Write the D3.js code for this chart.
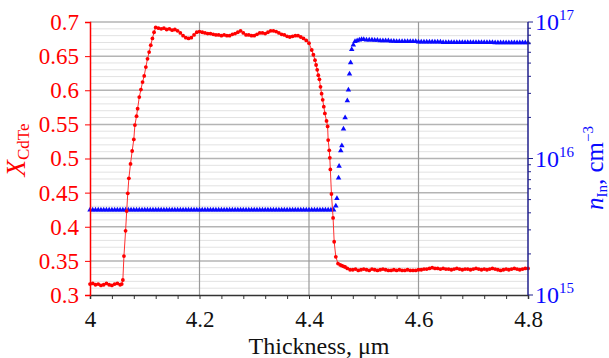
<!DOCTYPE html>
<meta charset="utf-8">
<script src="https://d3js.org/d3.v7.min.js"></script>
<style>
  body { margin: 0; background: #fff; }
</style>
<div id="chart"></div>
<script>

// X_CdTe profile (red): thickness (um) and composition
var redT = [
  4.000, 4.005, 4.010, 4.015, 4.020, 4.025, 4.030, 4.035, 4.040, 4.045, 4.050, 4.055, 4.058,
  4.060, 4.062, 4.065, 4.067, 4.069, 4.071, 4.074, 4.077, 4.080, 4.082, 4.085, 4.087, 4.090,
  4.093, 4.096, 4.099, 4.102, 4.105, 4.108, 4.111, 4.114, 4.117, 4.120,
  4.125, 4.130, 4.135, 4.140, 4.145, 4.150, 4.155, 4.160, 4.165, 4.170, 4.175, 4.180, 4.185,
  4.190, 4.195, 4.200, 4.205, 4.210, 4.215, 4.220, 4.225, 4.230, 4.235, 4.240, 4.245, 4.250,
  4.255, 4.260, 4.265, 4.270, 4.275, 4.280, 4.285, 4.290, 4.295, 4.300, 4.305, 4.310, 4.315,
  4.320, 4.325, 4.330, 4.335, 4.340, 4.345, 4.350, 4.355, 4.360, 4.365, 4.370, 4.375, 4.380,
  4.385, 4.390, 4.395, 4.400,
  4.405, 4.408, 4.411, 4.413, 4.415, 4.417, 4.419, 4.421, 4.423, 4.425, 4.427, 4.429, 4.432,
  4.434, 4.435, 4.437, 4.438, 4.439, 4.441, 4.444, 4.446, 4.449, 4.453, 4.457, 4.460, 4.463,
  4.466, 4.470, 4.475,
  4.480, 4.485, 4.490, 4.495, 4.500, 4.505, 4.510, 4.515, 4.520, 4.525, 4.530, 4.535, 4.540,
  4.545, 4.550, 4.555, 4.560, 4.565, 4.570, 4.575, 4.580, 4.585, 4.590, 4.595, 4.600, 4.605,
  4.610, 4.615, 4.620, 4.625, 4.630, 4.635, 4.640, 4.645, 4.650, 4.655, 4.660, 4.665, 4.670,
  4.675, 4.680, 4.685, 4.690, 4.695, 4.700, 4.705, 4.710, 4.715, 4.720, 4.725, 4.730, 4.735,
  4.740, 4.745, 4.750, 4.755, 4.760, 4.765, 4.770, 4.775, 4.780, 4.785, 4.790, 4.795, 4.800
];
var redX = [
  0.316, 0.317, 0.315, 0.316, 0.314, 0.315, 0.317, 0.315, 0.314, 0.316, 0.317, 0.315, 0.316,
  0.322, 0.357, 0.394, 0.423, 0.449, 0.471, 0.492, 0.511, 0.528, 0.549, 0.562, 0.573, 0.590,
  0.601, 0.612, 0.621, 0.634, 0.646, 0.656, 0.666, 0.676, 0.685, 0.692,
  0.691, 0.690, 0.691, 0.689, 0.690, 0.688, 0.689, 0.687, 0.684, 0.680, 0.677, 0.676, 0.677,
  0.681, 0.685, 0.686, 0.685, 0.684, 0.683, 0.683, 0.682, 0.681, 0.681, 0.680, 0.681, 0.680,
  0.680, 0.682, 0.683, 0.685, 0.687, 0.684, 0.681, 0.681, 0.680, 0.680, 0.682, 0.684, 0.684,
  0.683, 0.685, 0.687, 0.687, 0.686, 0.684, 0.682, 0.681, 0.679, 0.678, 0.679, 0.680, 0.680,
  0.678, 0.676, 0.673, 0.669,
  0.659, 0.652, 0.644, 0.637, 0.630, 0.622, 0.616, 0.605, 0.595, 0.586, 0.576, 0.566, 0.555,
  0.547, 0.527, 0.512, 0.501, 0.484, 0.448, 0.413, 0.378, 0.356, 0.346, 0.344, 0.343, 0.342,
  0.341, 0.339, 0.337,
  0.337, 0.338, 0.336, 0.337, 0.338, 0.337, 0.336, 0.338, 0.337, 0.336, 0.337, 0.338, 0.337,
  0.336, 0.336, 0.337, 0.336, 0.337, 0.336, 0.336, 0.337, 0.336, 0.336, 0.336, 0.337, 0.337,
  0.338, 0.338, 0.339, 0.340, 0.339, 0.339, 0.338, 0.339, 0.338, 0.338, 0.337, 0.338, 0.339,
  0.338, 0.337, 0.338, 0.338, 0.337, 0.338, 0.339, 0.338, 0.337, 0.338, 0.337, 0.338, 0.339,
  0.338, 0.337, 0.336, 0.337, 0.338, 0.337, 0.338, 0.339, 0.338, 0.337, 0.338, 0.339, 0.339
];

// n_In profile (blue): thickness (um) and concentration (cm^-3)
var blueT = [
  4.000, 4.005, 4.010, 4.015, 4.020, 4.025, 4.030, 4.035, 4.040, 4.045, 4.050, 4.055, 4.060,
  4.065, 4.070, 4.075, 4.080, 4.085, 4.090, 4.095, 4.100, 4.105, 4.110, 4.115, 4.120, 4.125,
  4.130, 4.135, 4.140, 4.145, 4.150, 4.155, 4.160, 4.165, 4.170, 4.175, 4.180, 4.185, 4.190,
  4.195, 4.200, 4.205, 4.210, 4.215, 4.220, 4.225, 4.230, 4.235, 4.240, 4.245, 4.250, 4.255,
  4.260, 4.265, 4.270, 4.275, 4.280, 4.285, 4.290, 4.295, 4.300, 4.305, 4.310, 4.315, 4.320,
  4.325, 4.330, 4.335, 4.340, 4.345, 4.350, 4.355, 4.360, 4.365, 4.370, 4.375, 4.380, 4.385,
  4.390, 4.395, 4.400, 4.405, 4.410, 4.415, 4.420, 4.425, 4.430, 4.435, 4.440, 4.445,
  4.449, 4.451, 4.454, 4.455, 4.458, 4.460, 4.463, 4.466, 4.470, 4.472, 4.474, 4.476, 4.478,
  4.481, 4.484, 4.488, 4.492, 4.496,
  4.500, 4.505, 4.510, 4.515, 4.520, 4.525, 4.530, 4.535, 4.540, 4.545, 4.550, 4.555, 4.560,
  4.565, 4.570, 4.575, 4.580, 4.585, 4.590, 4.595, 4.600, 4.605, 4.610, 4.615, 4.620, 4.625,
  4.630, 4.635, 4.640, 4.645, 4.650, 4.655, 4.660, 4.665, 4.670, 4.675, 4.680, 4.685, 4.690,
  4.695, 4.700, 4.705, 4.710, 4.715, 4.720, 4.725, 4.730, 4.735, 4.740, 4.745, 4.750, 4.755,
  4.760, 4.765, 4.770, 4.775, 4.780, 4.785, 4.790, 4.795, 4.800
];
var blueN = [
  4.2e15, 4.2e15, 4.2e15, 4.2e15, 4.2e15, 4.2e15, 4.2e15, 4.2e15, 4.2e15, 4.2e15, 4.2e15, 4.2e15, 4.2e15,
  4.2e15, 4.2e15, 4.2e15, 4.2e15, 4.2e15, 4.2e15, 4.2e15, 4.2e15, 4.2e15, 4.2e15, 4.2e15, 4.2e15, 4.2e15,
  4.2e15, 4.2e15, 4.2e15, 4.2e15, 4.2e15, 4.2e15, 4.2e15, 4.2e15, 4.2e15, 4.2e15, 4.2e15, 4.2e15, 4.2e15,
  4.2e15, 4.2e15, 4.2e15, 4.2e15, 4.2e15, 4.2e15, 4.2e15, 4.2e15, 4.2e15, 4.2e15, 4.2e15, 4.2e15, 4.2e15,
  4.2e15, 4.2e15, 4.2e15, 4.2e15, 4.2e15, 4.2e15, 4.2e15, 4.2e15, 4.2e15, 4.2e15, 4.2e15, 4.2e15, 4.2e15,
  4.2e15, 4.2e15, 4.2e15, 4.2e15, 4.2e15, 4.2e15, 4.2e15, 4.2e15, 4.2e15, 4.2e15, 4.2e15, 4.2e15, 4.2e15,
  4.2e15, 4.2e15, 4.2e15, 4.2e15, 4.2e15, 4.2e15, 4.2e15, 4.2e15, 4.2e15, 4.2e15, 4.2e15, 4.2e15,
  4.5e15, 5.1e15, 7.2e15, 8.8e15, 1.14e16, 1.24e16, 1.65e16, 1.99e16, 2.65e16, 3.18e16, 4.16e16, 5.04e16, 6.3e16,
  6.8e16, 7.2e16, 7.3e16, 7.4e16, 7.45e16,
  7.45e16, 7.4e16, 7.4e16, 7.4e16, 7.35e16, 7.35e16, 7.3e16, 7.3e16, 7.3e16, 7.3e16, 7.25e16, 7.25e16, 7.2e16,
  7.2e16, 7.2e16, 7.2e16, 7.2e16, 7.2e16, 7.2e16, 7.2e16, 7.15e16, 7.15e16, 7.15e16, 7.15e16, 7.15e16, 7.15e16,
  7.15e16, 7.15e16, 7.15e16, 7.1e16, 7.1e16, 7.1e16, 7.1e16, 7.1e16, 7.1e16, 7.1e16, 7.1e16, 7.1e16, 7.1e16,
  7.1e16, 7.1e16, 7.1e16, 7.1e16, 7.1e16, 7.1e16, 7.1e16, 7.1e16, 7.1e16, 7.05e16, 7.05e16, 7.05e16, 7.05e16,
  7.05e16, 7.05e16, 7.05e16, 7.05e16, 7.05e16, 7.05e16, 7.05e16, 7.05e16, 7.05e16
];

var xTicks = [4, 4.2, 4.4, 4.6, 4.8];
var yTicks = [0.3, 0.35, 0.4, 0.45, 0.5, 0.55, 0.6, 0.65, 0.7];
var nTicks = [1e15, 1e16, 1e17];

var red = "#ff0000", blue = "#0a0aff", navy = "#20208c";

var margin = {top: 22, right: 81, bottom: 63, left: 90},
    width = 609 - margin.left - margin.right,
    height = 358 - margin.top - margin.bottom;

var svg = d3.select("#chart")
  .append("svg")
    .attr("width", 609)
    .attr("height", 358)
  .append("g")
    .attr("transform", "translate(" + margin.left + "," + margin.top + ")");

var x = d3.scaleLinear().domain([4, 4.8]).range([0, width]);
var y = d3.scaleLinear().domain([0.3, 0.7]).range([height, 0]);
var yN = d3.scaleLog().domain([1e15, 1e17]).range([height, 0]);

// grid: light lines every 0.01, darker every 0.05, verticals at major x ticks
svg.append("g").selectAll("line")
  .data(d3.range(31, 70).filter(function(i) { return i % 5 != 0; }).map(function(i) { return i / 100; }))
  .enter().append("line")
    .attr("x1", 0).attr("x2", width)
    .attr("y1", function(d) { return y(d); }).attr("y2", function(d) { return y(d); })
    .attr("stroke", "#e2e2e2").attr("stroke-width", 1);
svg.append("g").selectAll("line")
  .data(yTicks.slice(1))
  .enter().append("line")
    .attr("x1", 0).attr("x2", width)
    .attr("y1", function(d) { return y(d); }).attr("y2", function(d) { return y(d); })
    .attr("stroke", "#b4b4b4").attr("stroke-width", 1.5);
svg.append("g").selectAll("line")
  .data(xTicks.slice(1, -1))
  .enter().append("line")
    .attr("x1", function(d) { return x(d); }).attr("x2", function(d) { return x(d); })
    .attr("y1", 0).attr("y2", height)
    .attr("stroke", "#9a9a9a").attr("stroke-width", 1.2);

// n_In series (triangles)
var blueData = blueT.map(function(t, i) { return {t: t, n: blueN[i]}; });
svg.append("g").selectAll("path")
  .data(blueData)
  .enter().append("path")
    .attr("d", d3.symbol().type(d3.symbolTriangle).size(13))
    .attr("transform", function(d) { return "translate(" + x(d.t) + "," + yN(d.n) + ")"; })
    .attr("fill", blue);

// X_CdTe series (line + dots)
var redData = redT.map(function(t, i) { return {t: t, v: redX[i]}; });
svg.append("path")
  .datum(redData)
  .attr("fill", "none")
  .attr("stroke", "#ff3030")
  .attr("stroke-width", 1)
  .attr("d", d3.line().x(function(d) { return x(d.t); }).y(function(d) { return y(d.v); }));
svg.append("g").selectAll("circle")
  .data(redData)
  .enter().append("circle")
    .attr("cx", function(d) { return x(d.t); })
    .attr("cy", function(d) { return y(d.v); })
    .attr("r", 1.9)
    .attr("fill", red);

// bottom axis
var xAxis = svg.append("g")
  .attr("transform", "translate(0," + height + ")")
  .call(d3.axisBottom(x)
    .tickValues(d3.range(0, 21).map(function(i) { return 4 + i * 0.04; }))
    .tickSize(4).tickPadding(12)
    .tickFormat(function(d) { return xTicks.some(function(t) { return Math.abs(t - d) < 1e-9; }) ? d3.format(".1~f")(d) : ""; }));
xAxis.select(".domain").attr("stroke", "#333").attr("stroke-width", 1.5);
xAxis.selectAll(".tick line").attr("stroke", "#333");
xAxis.selectAll(".tick text").attr("font-size", 23).attr("fill", "#111");

// left axis
var yAxis = svg.append("g")
  .call(d3.axisLeft(y).tickValues(yTicks).tickSize(5).tickPadding(6)
    .tickFormat(d3.format(".2~f")));
yAxis.select(".domain").attr("stroke", red).attr("stroke-width", 1.5);
yAxis.selectAll(".tick line").attr("stroke", red);
yAxis.selectAll(".tick text").attr("font-size", 23).attr("fill", red);

// right axis (log)
var nMinor = [];
[1e15, 1e16].forEach(function(b) { for (var k = 2; k <= 9; k++) nMinor.push(b * k); });
var rAxis = svg.append("g")
  .attr("transform", "translate(" + width + ",0)");
rAxis.append("line")
  .attr("x1", 0).attr("x2", 0).attr("y1", 0).attr("y2", height)
  .attr("stroke", navy).attr("stroke-width", 1.5);
rAxis.selectAll(".minor").data(nMinor).enter().append("line")
  .attr("x1", 0).attr("x2", 3)
  .attr("y1", function(d) { return yN(d); }).attr("y2", function(d) { return yN(d); })
  .attr("stroke", navy);
rAxis.selectAll(".major").data(nTicks).enter().append("line")
  .attr("x1", 0).attr("x2", 5)
  .attr("y1", function(d) { return yN(d); }).attr("y2", function(d) { return yN(d); })
  .attr("stroke", navy);
var rLab = rAxis.selectAll(".lab").data(nTicks).enter().append("text")
  .attr("x", 7)
  .attr("y", function(d) { return yN(d) + 8; })
  .attr("fill", blue)
  .attr("font-size", 24);
rLab.append("tspan").text("10");
rLab.append("tspan")
  .attr("font-size", 15).attr("dy", -10)
  .text(function(d) { return Math.round(Math.log10(d)); });

// axis titles
svg.append("text")
  .attr("x", 229).attr("y", 332)
  .attr("text-anchor", "middle")
  .attr("font-size", 24).attr("fill", "#111")
  .text("Thickness, \u03bcm");

var lt = svg.append("text")
  .attr("transform", "translate(" + (25 - margin.left) + "," + (150 - margin.top) + ") rotate(-90)")
  .attr("text-anchor", "middle")
  .attr("fill", red).attr("font-size", 27);
lt.append("tspan").attr("font-style", "italic").text("X");
lt.append("tspan").attr("font-size", 17).attr("dy", 4).text("CdTe");

var rt = svg.append("text")
  .attr("transform", "translate(" + (603 - margin.left) + "," + (168 - margin.top) + ") rotate(-90)")
  .attr("text-anchor", "middle")
  .attr("fill", blue).attr("font-size", 25);
rt.append("tspan").attr("font-style", "italic").text("n");
rt.append("tspan").attr("font-size", 15).attr("dy", 4).text("In");
rt.append("tspan").attr("dy", -4).text(", cm");
rt.append("tspan").attr("font-size", 15).attr("dy", -10).text("\u22123");

// serif face for every label (inline style, single family)
d3.selectAll("svg g").attr("font-family", null);
d3.selectAll("svg text").style("font-family", "'Liberation Serif'");

</script>
